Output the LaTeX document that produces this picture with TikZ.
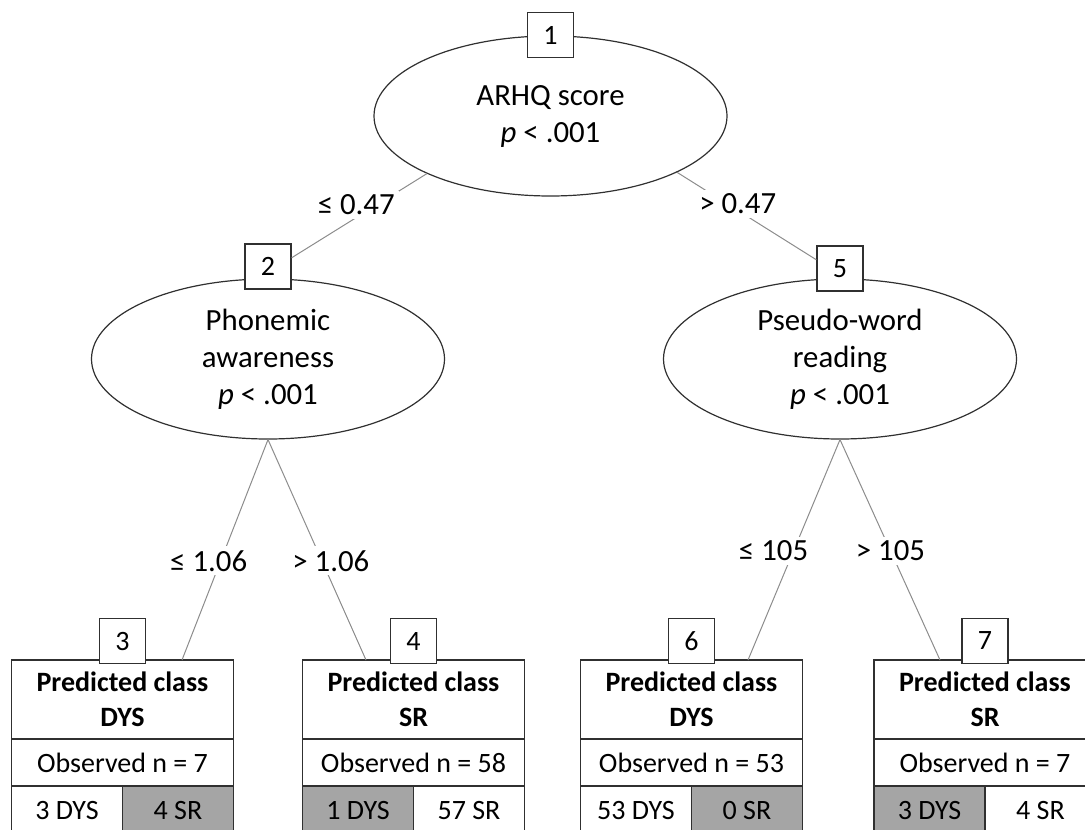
\documentclass[tikz,border=0pt]{standalone}
\usepackage{fontspec}
\setmainfont{Carlito}
\usetikzlibrary{shapes.geometric,positioning}
\definecolor{cellgray}{HTML}{A5A5A5}
\definecolor{linegray}{HTML}{8C8C8C}
\definecolor{darkline}{HTML}{303030}
\begin{document}
\begin{tikzpicture}[x=0.5pt,y=-0.5pt,font=\fontsize{15.4}{18.5}\selectfont,
  split/.style={ellipse,draw=darkline,line width=0.6pt,minimum width=176.5pt,minimum height=80pt,align=center,inner sep=0pt},
  num/.style={rectangle,draw=darkline,line width=0.6pt,fill=white,minimum width=23pt,minimum height=22.5pt,inner sep=0pt,font=\fontsize{14}{17}\selectfont},
  head/.style={rectangle,draw=darkline,line width=0.7pt,minimum width=111pt,minimum height=39.5pt,align=center,inner sep=0pt,outer sep=0pt,font=\fontsize{14}{17.5}\selectfont\bfseries},
  obs/.style={rectangle,draw=darkline,line width=0.7pt,minimum width=111pt,minimum height=23.5pt,inner sep=0pt,outer sep=0pt,font=\fontsize{14}{17}\selectfont},
  cell/.style={rectangle,draw=darkline,line width=0.7pt,minimum width=55.5pt,minimum height=24pt,inner sep=0pt,outer sep=0pt,font=\fontsize{14}{17}\selectfont},
  edge/.style={draw=linegray,line width=0.5pt},
  lbl/.style={fill=white,inner sep=2pt}]
\clip (0,0) rectangle (1085,829);
% split nodes
\node[split] (s1) at (550.5,116) {ARHQ score\\\textit{p} < .001};
\node[split] (s2) at (268,359) {Phonemic\\awareness\\\textit{p} < .001};
\node[split] (s5) at (840,359) {Pseudo-word\\reading\\\textit{p} < .001};
\node[num] (b1) at (s1.north) {1};
\node[num] (b2) at ([yshift=6pt]s2.north) {2};
\node[num] (b5) at ([yshift=5pt]s5.north) {5};
% leaves
\foreach \i/\x/\cls/\n/\dys/\sr/\gl/\gr in {3/122.5/DYS/7/3/4/white/cellgray,
    4/413.5/SR/58/1/57/cellgray/white,
    6/691.5/DYS/53/53/0/white/cellgray,
    7/985/SR/7/3/4/cellgray/white}{
  \node[head,anchor=north] (h\i) at (\x,660) {Predicted class\\\cls};
  \node[obs,below=0pt of h\i] (o\i) {Observed n = \n};
  \node[cell,fill=\gl,anchor=north west] (l\i) at (o\i.south west) {\dys{} DYS};
  \node[cell,fill=\gr,anchor=north east] (r\i) at (o\i.south east) {\sr{} SR};
  \node[num] (n\i) at ([yshift=9.5pt]h\i.north) {\i};
}
% connectors
\draw[edge] (s1.205.5) -- node[lbl,xshift=-1.5pt,yshift=5.5pt]{≤ 0.47} (b2.20);
\draw[edge] (s1.-24) -- node[lbl,xshift=-4.5pt,yshift=6pt]{> 0.47} (b5.160);
\draw[edge] (s2.south) -- node[lbl,pos=.55,xshift=-6pt]{≤ 1.06} ([xshift=29.75pt]h3.north);
\draw[edge] (s2.south) -- node[lbl,pos=.55,xshift=4.5pt]{> 1.06} ([xshift=-23.75pt]h4.north);
\draw[edge] (s5.south) -- node[lbl,pos=.505,xshift=-10pt]{≤ 105} ([xshift=28.25pt]h6.north);
\draw[edge] (s5.south) -- node[lbl,pos=.505]{> 105} ([xshift=-22.5pt]h7.north);
\end{tikzpicture}
\end{document}
